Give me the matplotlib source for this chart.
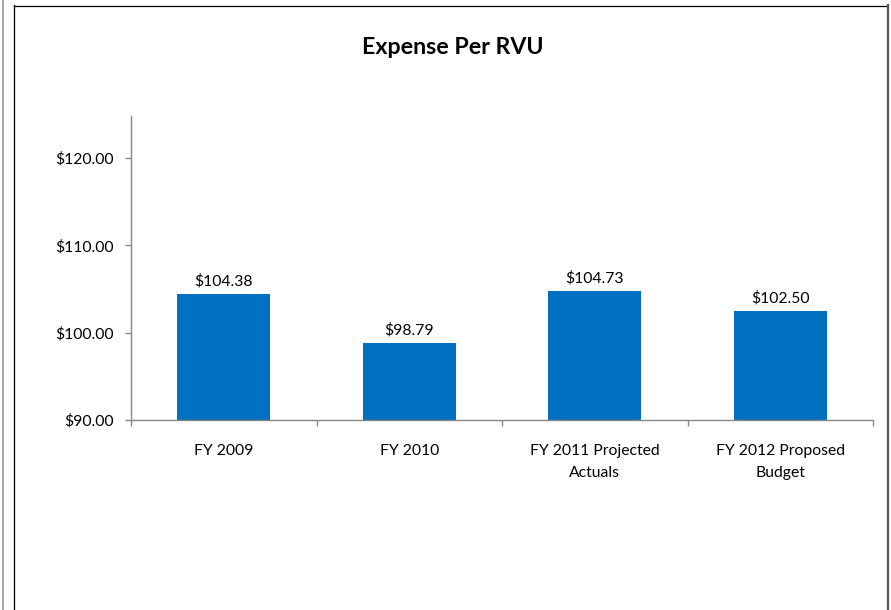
"""
Expense per RVU bar chart, drawn in the Excel style of the source report.
"""

import matplotlib

matplotlib.use("Agg")
import matplotlib.pyplot as plt
from matplotlib.lines import Line2D
from matplotlib.ticker import FuncFormatter, MultipleLocator

#### Data

CATEGORIES = [
    "FY 2009",
    "FY 2010",
    "FY 2011 Projected\nActuals",
    "FY 2012 Proposed\nBudget",
]
EXPENSE_PER_RVU = [104.38, 98.79, 104.73, 102.50]
TITLE = "Expense Per RVU"

#### Style

BAR_COLOR = "#0070C0"
AXIS_COLOR = "#868686"
TEXT_COLOR = "#000000"
FONT = ["Lato", "DejaVu Sans"]
LABEL_SIZE = 11.3

W, H = 891, 610


def money(value, _pos=None):
    """Format a number as dollars with two decimals."""
    return f"${value:,.2f}"


def main():
    plt.rcParams["font.family"] = FONT
    fig = plt.figure(figsize=(W / 100, H / 100), dpi=100)

    # plot area in pixel terms, converted to figure fractions
    left, right, top, bottom = 131, 873, 116, 420
    ax = fig.add_axes(
        [left / W, (H - bottom) / H, (right - left) / W, (bottom - top) / H]
    )

    x = range(len(CATEGORIES))
    bars = ax.bar(x, EXPENSE_PER_RVU, width=0.5, color=BAR_COLOR, zorder=2)
    ax.set_xlim(-0.5, len(CATEGORIES) - 0.5)
    ax.set_ylim(90, 124.8)

    for bar, val in zip(bars, EXPENSE_PER_RVU):
        ax.annotate(
            money(val),
            (bar.get_x() + bar.get_width() / 2, val),
            xytext=(0, 4),
            textcoords="offset points",
            ha="center",
            va="bottom",
            fontsize=LABEL_SIZE,
            color=TEXT_COLOR,
        )

    # axes styling
    for side in ("top", "right"):
        ax.spines[side].set_visible(False)
    for side in ("left", "bottom"):
        ax.spines[side].set_color(AXIS_COLOR)
        ax.spines[side].set_linewidth(1.0)

    ax.yaxis.set_major_locator(MultipleLocator(10))
    ax.yaxis.set_major_formatter(FuncFormatter(money))
    ax.tick_params(
        axis="y",
        direction="out",
        length=4.5,
        width=1,
        color=AXIS_COLOR,
        pad=8,
        labelsize=LABEL_SIZE,
        labelcolor=TEXT_COLOR,
    )

    ax.set_xticks(list(x))
    ax.set_xticklabels(CATEGORIES, linespacing=1.8)
    ax.set_xticks([i - 0.5 for i in range(len(CATEGORIES) + 1)], minor=True)
    ax.tick_params(
        axis="x",
        which="major",
        length=0,
        pad=17,
        labelsize=LABEL_SIZE,
        labelcolor=TEXT_COLOR,
    )
    ax.tick_params(
        axis="x", which="minor", direction="out", length=4, width=1, color=AXIS_COLOR
    )

    fig.text(
        453 / W,
        1 - 47 / H,
        TITLE,
        ha="center",
        va="center",
        fontsize=16.7,
        fontweight="bold",
        color=TEXT_COLOR,
    )

    # chart frame and neighbouring frame edge, in pixel coordinates
    def px_line(xs, ys, **kw):
        fig.add_artist(
            Line2D(
                [v / W for v in xs],
                [1 - v / H for v in ys],
                transform=fig.transFigure,
                **kw,
            )
        )

    px_line([3, 3], [0, H], color="#9a9a9a", lw=1.2)
    px_line([14.5, 14.5], [5, H], color="#000000", lw=0.9)
    px_line([14.5, 887], [5.5, 5.5], color="#000000", lw=0.9)
    px_line([887.5, 887.5], [5, H], color="#555555", lw=1.6)

    fig.savefig("out.png", dpi=100)


if __name__ == "__main__":
    main()
